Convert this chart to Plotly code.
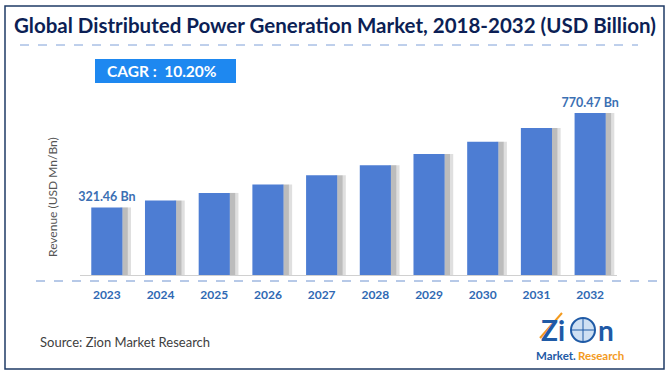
import plotly.graph_objects as go

years = ["2023", "2024", "2025", "2026", "2027", "2028", "2029", "2030", "2031", "2032"]
revenue = [321.46, 354.2, 390.4, 430.2, 474.1, 522.4, 575.7, 634.4, 699.1, 770.47]
bar_labels = ["321.46 Bn", "", "", "", "", "", "", "", "", "770.47 Bn"]
title_text = "Global Distributed Power Generation Market, 2018-2032 (USD Billion)"
cagr_text = "CAGR :  10.20%"
y_title = "Revenue (USD Mn/Bn)"
source_text = "Source: Zion Market Research"

W, H = 670, 377
L, R, T, B = 80, 617, 90, 275
FONT = "Lato"

def px(x):
    return (x - L) / (R - L)

def py(y):
    return (B - y) / (B - T)

fig = go.Figure()

fig.add_trace(go.Bar(
    x=years, y=revenue, width=0.2, offset=0.25,
    marker=dict(color="rgba(150,150,150,0.30)", line=dict(width=0)),
    hoverinfo="skip", showlegend=False,
))
fig.add_trace(go.Bar(
    x=years, y=revenue, width=0.1, offset=0.29,
    marker=dict(color="rgba(110,110,110,0.30)", line=dict(width=0)),
    hoverinfo="skip", showlegend=False,
))
fig.add_trace(go.Bar(
    x=years, y=revenue, width=0.58, offset=-0.29,
    marker=dict(color="#4d7dd3", line=dict(width=0)),
    text=bar_labels, textposition="outside", cliponaxis=False,
    constraintext="none",
    textfont=dict(family=FONT, size=12.5, color="#3b6fb3", weight="bold"),
    showlegend=False,
))

shapes = []
shapes.append(dict(type="rect", xref="paper", yref="paper",
                   x0=px(5), x1=px(664), y0=py(6), y1=py(369),
                   line=dict(color="#1f3b66", width=1.5), fillcolor="rgba(0,0,0,0)", layer="below"))
shapes.append(dict(type="line", xref="paper", yref="paper",
                   x0=px(20), x1=px(638), y0=py(45), y1=py(45),
                   line=dict(color="#7ea0d8", width=1, dash="dash")))
shapes.append(dict(type="line", xref="paper", yref="paper",
                   x0=px(36), x1=px(660), y0=py(281), y1=py(281),
                   line=dict(color="#6f93d0", width=1, dash="dash")))
shapes.append(dict(type="rect", xref="paper", yref="paper",
                   x0=px(95), x1=px(236), y0=py(59), y1=py(83),
                   line=dict(width=0), fillcolor="#1e88f0"))
# globe of logo
shapes.append(dict(type="circle", xref="paper", yref="paper",
                   x0=px(571), x1=px(595), y0=py(318), y1=py(342),
                   line=dict(color="#1f5aa6", width=2), fillcolor="#cfe0f3"))
shapes.append(dict(type="line", xref="paper", yref="paper",
                   x0=px(571), x1=px(595), y0=py(330), y1=py(330),
                   line=dict(color="#1f5aa6", width=1)))
shapes.append(dict(type="line", xref="paper", yref="paper",
                   x0=px(583), x1=px(583), y0=py(318), y1=py(342),
                   line=dict(color="#1f5aa6", width=1)))
# orange swoosh of logo
shapes.append(dict(type="line", xref="paper", yref="paper",
                   x0=px(540), x1=px(562), y0=py(338), y1=py(313),
                   line=dict(color="#f39a1e", width=2)))

annotations = [
    dict(text="<b>" + title_text + "</b>", xref="paper", yref="paper",
         x=px(335), y=py(25), xanchor="center", yanchor="middle", showarrow=False,
         font=dict(family=FONT, size=20.5, color="#0c1f55")),
    dict(text="<b>" + cagr_text + "</b>", xref="paper", yref="paper",
         x=px(162), y=py(71), xanchor="center", yanchor="middle", showarrow=False,
         font=dict(family=FONT, size=15.5, color="white")),
    dict(text=y_title, xref="paper", yref="paper",
         x=px(52), y=py(197), xanchor="center", yanchor="middle", showarrow=False,
         textangle=-90, font=dict(family=FONT, size=12, color="#555555")),
    dict(text=source_text, xref="paper", yref="paper",
         x=px(38), y=py(342), xanchor="left", yanchor="middle", showarrow=False,
         font=dict(family=FONT, size=13, color="#404040")),
    dict(text="<b>Zi</b>", xref="paper", yref="paper", borderpad=0,
         x=px(553), y=py(330), xanchor="center", yanchor="middle", showarrow=False,
         font=dict(family=FONT, size=28, color="#1f5aa6")),
    dict(text="<b>n</b>", xref="paper", yref="paper", borderpad=0,
         x=px(606), y=py(330), xanchor="center", yanchor="middle", showarrow=False,
         font=dict(family=FONT, size=28, color="#1f5aa6")),
    dict(text="<b>Market.</b>", xref="paper", yref="paper", borderpad=0,
         x=px(577), y=py(355), xanchor="right", yanchor="middle", showarrow=False,
         font=dict(family=FONT, size=11.5, color="#1f5aa6")),
    dict(text="<b>Research</b>", xref="paper", yref="paper", borderpad=0,
         x=px(577), y=py(355), xanchor="left", yanchor="middle", showarrow=False,
         font=dict(family=FONT, size=11.5, color="#f39a1e")),
]

fig.update_layout(
    width=W, height=H,
    margin=dict(l=L, r=W - R, t=T, b=H - B, pad=0, autoexpand=False),
    paper_bgcolor="white", plot_bgcolor="white",
    barmode="overlay",
    shapes=shapes, annotations=annotations,
    showlegend=False,
    xaxis=dict(type="category", showgrid=False, zeroline=False, automargin=False,
               showline=True, linecolor="#d0d0d0", linewidth=1,
               ticks="", tickfont=dict(family=FONT, size=12, color="#2f69b3", weight="bold"),
               ticklabelstandoff=9),
    yaxis=dict(range=[0, 880], showgrid=False, zeroline=False, showline=False,
               showticklabels=False, ticks="", automargin=False),
)

fig.write_html("out.html", config={"displayModeBar": False},
               post_script="document.body.style.margin='0';document.body.style.overflow='hidden';")
